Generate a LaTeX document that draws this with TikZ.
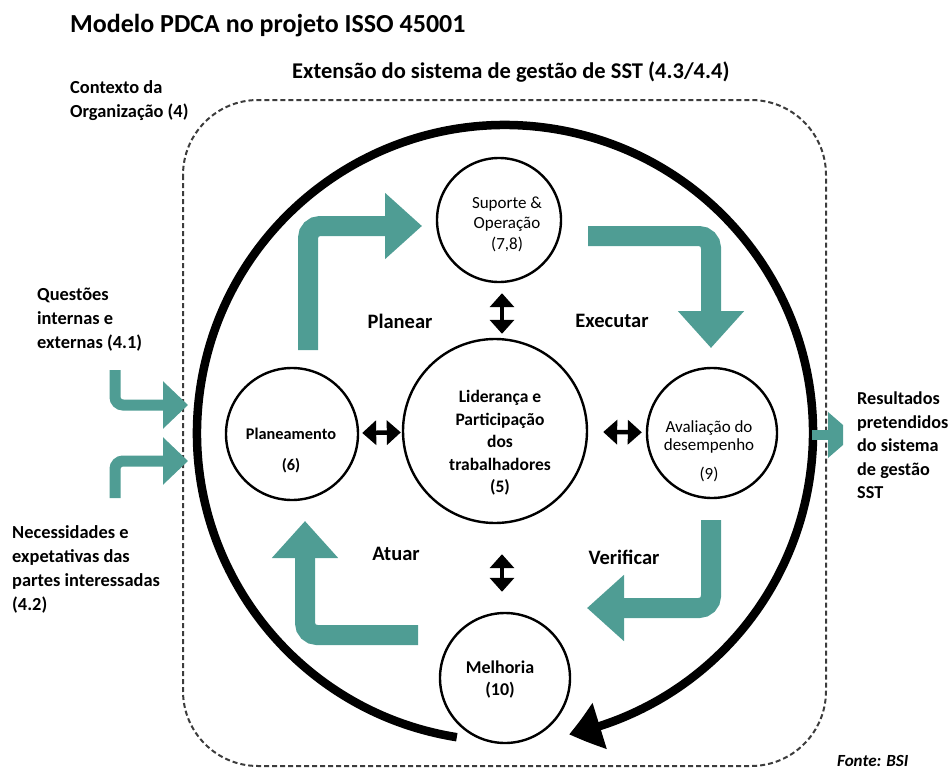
\documentclass[tikz,border=0pt]{standalone}
\usepackage{fontspec}
\setmainfont{Carlito}
\usetikzlibrary{arrows.meta,bending,calc}
\definecolor{pdcateal}{RGB}{79,157,148}
\definecolor{framegray}{RGB}{60,60,60}
\begin{document}
\begin{tikzpicture}[x=1pt,y=1pt,
  sidelabel/.style={font=\bfseries\fontsize{18.4}{24}\selectfont, align=left, inner sep=0pt, anchor=north west},
  phase/.style={font=\bfseries\fontsize{20.5}{20.5}\selectfont, inner sep=0pt},
  stage/.style={circle, draw, line width=2.4pt, fill=white, inner sep=0pt},
  swap/.style={line width=4.5pt, {Triangle[length=14pt,width=24pt]}-{Triangle[length=14pt,width=24pt]}},
  flow/.style={pdcateal, line width=20pt, rounded corners=12pt, -{Triangle[length=37pt,width=64pt]}},
  feed/.style={pdcateal, line width=11pt, rounded corners=8pt, -{Triangle[length=25pt,width=46pt]}},
]
\path[use as bounding box] (0,0) rectangle (951,-771);

% headings
\node[font=\bfseries\fontsize{26}{26}\selectfont, anchor=base west, inner sep=0pt] (title) at (70,-32) {Modelo PDCA no projeto ISSO 45001};
\node[font=\bfseries\fontsize{22.5}{22.5}\selectfont, anchor=base west, inner sep=0pt] (scope) at (292,-78) {Extensão do sistema de gestão de SST (4.3/4.4)};

% context frame
\draw[framegray, line width=2pt, dash pattern=on 5pt off 3pt, rounded corners=75pt] (183,-100) rectangle (826,-766);

% outer PDCA ring
\coordinate (ringc) at (505,-433);
\draw[line width=8.5pt, -{Triangle[length=32pt,width=46pt,bend]}]
  ($(ringc)+(261:308)$) arc[start angle=261, end angle=-78, radius=308];

% stages
\node[stage, minimum size=124pt] (sup) at (499,-220) {};
\node[stage, minimum size=184pt] (lid) at (495,-431) {};
\node[stage, minimum size=132pt] (plan) at (292,-434) {};
\node[stage, minimum size=130pt] (aval) at (712,-433) {};
\node[stage, minimum size=130pt] (mel) at (505,-678) {};

\node[font=\fontsize{17}{20.5}\selectfont, align=center] (sup-t) at (507,-224) {Suporte \&\\Operação\\(7,8)};
\node[font=\bfseries\fontsize{17.5}{22.5}\selectfont, align=center] (lid-t) at (500,-443) {Liderança e\\Participação\\dos\\trabalhadores\\(5)};
\node[font=\bfseries\fontsize{16.3}{31}\selectfont, align=center] (plan-t) at (291,-451) {Planeamento\\(6)};
\node[font=\fontsize{17}{18}\selectfont, align=center] (aval-t) at (709,-451) {Avaliação do\\desempenho\\[11pt](9)};
\node[font=\bfseries\fontsize{18}{22}\selectfont, align=center] (mel-t) at (500,-680) {Melhoria\\(10)};

% links with the central stage
\draw[swap, shorten <=3pt, shorten >=1pt] (plan) -- (lid);
\draw[swap, shorten <=15pt, shorten >=4pt] (lid) -- (aval);
\draw[swap, shorten <=10pt, shorten >=4pt] (sup.south -| 502,0) -- (lid.north -| 502,0);
\draw[swap, shorten <=30pt, shorten >=20pt] (lid.south -| 502,0) -- (mel.north -| 502,0);

% PDCA phase arrows
\draw[flow] (308,-350) -- (308,-226) -- (422,-226);
\draw[flow] (588,-236) -- (711,-236) -- (711,-348);
\draw[flow] (711,-520) -- (711,-608) -- (587,-608);
\draw[flow] (418,-635) -- (305,-635) -- (305,-521);

\node[phase] (p-plan) at (400,-321) {Planear};
\node[phase] (p-do) at (612,-321) {Executar};
\node[phase] (p-act) at (396,-554) {Atuar};
\node[phase] (p-check) at (624,-557) {Verificar};

% inputs
\draw[feed] (115,-370) -- (115,-405) -- (188,-405);
\draw[feed] (115,-498) -- (115,-461) -- (188,-461);
\node[sidelabel] (ctx) at (70,-80) {Contexto da\\Organização (4)};
\node[sidelabel] (issues) at (37,-288) {Questões\\internas e\\externas (4.1)};
\node[sidelabel] (needs) at (12,-525) {Necessidades e\\expetativas das\\partes interessadas\\(4.2)};

% output
\fill[pdcateal] (812,-430) rectangle (830,-440);
\fill[pdcateal] (828,-412) -- (843,-425) -- (843,-445) -- (828,-458) -- cycle;
\node[sidelabel, font=\bfseries\fontsize{18.2}{23.5}\selectfont] (results) at (857,-392) {Resultados\\pretendidos\\do sistema\\de gestão\\SST};

\node[font=\bfseries\itshape\fontsize{17}{17}\selectfont, anchor=base west, inner sep=0pt] (src) at (837,-766) {Fonte: BSI};
\end{tikzpicture}
\end{document}
